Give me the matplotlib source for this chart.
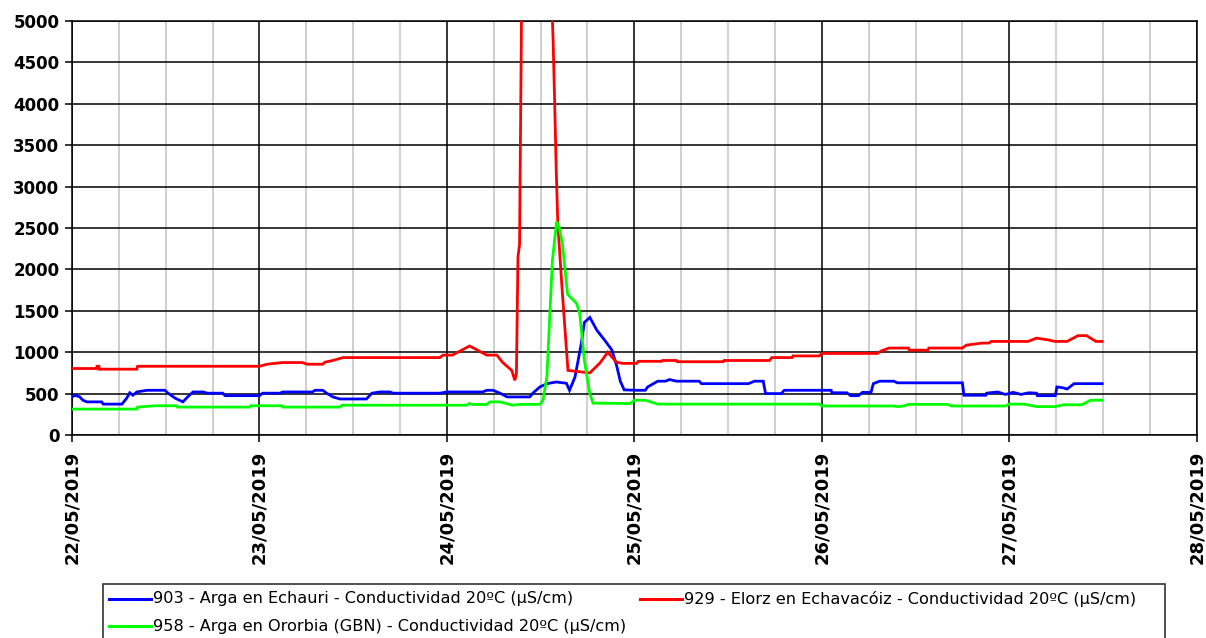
import matplotlib
matplotlib.use("Agg")
import matplotlib.pyplot as plt
import matplotlib.dates as mdates
import pandas as pd
from matplotlib.lines import Line2D
from matplotlib.patches import Rectangle

# ---------------- data (hours since 22/05/2019 00:00, µS/cm) ----------------
start = pd.Timestamp("2019-05-22 00:00")

labels = [
    "903 - Arga en Echauri - Conductividad 20ºC (µS/cm)",
    "929 - Elorz en Echavacóiz - Conductividad 20ºC (µS/cm)",
    "958 - Arga en Ororbia (GBN) - Conductividad 20ºC (µS/cm)",
]
colors = ["#0000ff", "#ff0000", "#00ff00"]

blue_h = [0, 0.4, 1.0, 1.4, 1.9, 3.8, 4.0, 6.4, 7.0, 7.4, 7.8, 8.3, 9.6, 11.9,
          12.3, 13.2, 14.2, 14.8, 15.5, 16.8, 17.3, 19.3, 19.6, 24.0, 24.4, 26.6,
          27.0, 30.8, 31.1, 32.1, 32.6, 33.4, 34.3, 37.7, 38.4, 39.4, 40.7, 41.1,
          47.1, 48.0, 52.6, 53.1, 53.9, 54.8, 55.7, 58.6, 59.0, 59.9, 60.8, 62.0,
          63.3, 63.7, 64.4, 65.2, 65.6, 66.3, 67.2, 68.2, 69.1, 69.7, 70.2, 70.7,
          72.3, 73.4, 73.7, 75.0, 76.0, 76.5, 77.4, 80.3, 80.6, 86.6, 87.4, 88.5,
          88.8, 90.8, 91.2, 97.2, 97.3, 99.2, 99.7, 100.7, 101.2, 102.3, 102.6,
          103.4, 105.2, 105.7, 114.0, 114.2, 117.0, 117.1, 118.5, 119.5, 120.5,
          121.5, 122.5, 123.5, 123.6, 125.9, 126.1, 126.9, 127.4, 128.3, 131.9]
blue_v = [460, 480, 460, 420, 400, 400, 373, 373, 445, 510, 480, 520, 540, 540,
          505, 445, 400, 460, 520, 520, 505, 505, 475, 475, 505, 505,
          520, 520, 540, 540, 505, 460, 435, 435, 505, 520, 520, 505,
          505, 520, 520, 540, 540, 505, 460, 460, 505, 580, 620, 640,
          625, 540, 700, 1100, 1360, 1420, 1265, 1145, 1030, 850, 650, 545,
          540, 540, 580, 650, 650, 670, 650, 650, 620, 620, 650, 650,
          500, 500, 540, 540, 510, 510, 475, 475, 515, 515, 620,
          650, 650, 630, 630, 480, 480, 505, 520, 490, 515,
          490, 510, 505, 475, 475, 580, 570, 555, 620, 620]

red_h = [0, 3.15, 3.2, 3.45, 3.5, 8.3, 8.4, 24.0, 25.0, 26.9, 29.5, 30.1, 32.1,
         32.4, 33.4, 34.7, 47.1, 47.5, 48.7, 50.9, 52.4, 53.1, 54.4, 55.1, 56.3,
         56.7, 56.9, 57.1, 57.3, 57.6, 61.3, 61.6, 61.8, 62.0, 62.2, 62.7, 63.1,
         63.5, 66.3, 67.6, 68.6, 69.7, 70.5, 72.3, 72.5, 75.5, 75.6, 77.4, 77.5,
         83.4, 83.5, 89.3, 89.6, 92.2, 92.3, 95.7, 96.0, 103.1, 103.6, 104.6,
         107.1, 107.2, 109.6, 109.7, 114.0, 114.5, 116.5, 117.4, 117.7, 122.4,
         123.5, 124.9, 125.9, 127.4, 128.8, 129.9, 131.1, 131.9]
red_v = [803, 803, 830, 830, 795, 795, 830, 830, 855, 875, 875, 855, 855,
         880, 900, 935, 935, 965, 965, 1075, 1000, 965, 965, 880, 780,
         660, 745, 2150, 2300, 5600, 5600, 4760, 4000, 3190, 2555, 1830, 1300,
         780, 750, 870, 1000, 880, 865, 865, 890, 890, 900, 900, 885,
         885, 900, 900, 935, 935, 955, 955, 985, 985, 1015, 1050,
         1050, 1025, 1025, 1050, 1050, 1085, 1110, 1110, 1130, 1130,
         1170, 1150, 1130, 1130, 1200, 1200, 1130, 1130]

green_h = [0, 8.3, 8.4, 10.6, 13.4, 13.5, 22.8, 22.9, 26.9, 27.0, 34.3, 34.6,
           50.5, 50.9, 51.3, 53.1, 53.5, 54.8, 55.4, 56.4, 57.3, 59.9, 60.3,
           60.8, 61.2, 61.5, 62.05, 62.4, 62.8, 63.45, 64.6, 65.0, 65.6, 66.3,
           66.7, 71.5, 72.0, 73.4, 75.0, 95.7, 96.0, 105.2, 105.7, 106.5, 107.1,
           112.1, 112.6, 119.5, 120.0, 121.9, 123.5, 125.9, 126.9, 129.3, 130.4,
           131.9]
green_v = [313, 313, 337, 353, 353, 337, 337, 353, 353, 337, 337, 360,
           360, 380, 368, 368, 400, 400, 385, 360, 370, 370, 420,
           700, 1500, 2100, 2580, 2500, 2300, 1700, 1590, 1470, 900, 500,
           385, 380, 420, 420, 373, 373, 350, 350, 343, 350, 370,
           370, 350, 350, 373, 373, 343, 343, 365, 365, 420,
           420]

hours = [blue_h, red_h, green_h]
values = [blue_v, red_v, green_v]

y_ticks = list(range(0, 5001, 500))
x_start = pd.Timestamp("2019-05-22")
x_end = pd.Timestamp("2019-05-28")

# ---------------- figure ----------------
W, H = 1206, 638
fig = plt.figure(figsize=(W / 100, H / 100), dpi=100)
fig.patch.set_facecolor("white")

ax_l, ax_r, ax_t, ax_b = 72, 1196.7, 21, 435
ax = fig.add_axes([ax_l / W, 1 - ax_b / H, (ax_r - ax_l) / W, (ax_b - ax_t) / H])

for h, v, c, lab in zip(hours, values, colors, labels):
    t = start + pd.to_timedelta(h, unit="h")
    ax.plot(t, v, color=c, lw=2.0, label=lab, zorder=3, solid_joinstyle="miter")

ax.set_xlim(x_start, x_end)
ax.set_ylim(0, 5000)
ax.set_yticks(y_ticks)
ax.xaxis.set_major_locator(mdates.DayLocator())
ax.xaxis.set_major_formatter(mdates.DateFormatter("%d/%m/%Y"))
ax.xaxis.set_minor_locator(mdates.HourLocator(byhour=[6, 12, 18]))

ax.grid(which="major", axis="both", color="black", lw=1.1, zorder=1)
ax.grid(which="minor", axis="x", color="#cccccc", lw=1.3, zorder=0)
ax.set_axisbelow(True)

ax.tick_params(axis="y", which="major", length=5, width=1.1, pad=4,
               labelsize=12, color="black")
ax.tick_params(axis="x", which="major", length=5, width=1.1, pad=6,
               labelsize=13, rotation=90, color="black")
ax.tick_params(axis="x", which="minor", length=0)
for lbl in ax.get_yticklabels() + ax.get_xticklabels():
    lbl.set_fontweight("bold")
    lbl.set_color("black")
for sp in ax.spines.values():
    sp.set_color("black")
    sp.set_linewidth(1.1)

# ---------------- legend (framed key below the plot) ----------------
def fx(px):
    return px / W

def fy(py):
    return 1 - py / H

frame = Rectangle((fx(102.5), fy(660)), fx(1165) - fx(102.5), fy(584) - fy(660),
                  transform=fig.transFigure, facecolor="white", edgecolor="#333333",
                  lw=1.2, zorder=5)
fig.add_artist(frame)

entries = [
    (0, 109, 151, 153, 599),
    (1, 640, 682, 684, 599),
    (2, 109, 151, 153, 626),
]
for idx, x0, x1, xt, yrow in entries:
    fig.add_artist(Line2D([fx(x0), fx(x1)], [fy(yrow), fy(yrow)],
                          transform=fig.transFigure, color=colors[idx], lw=2.2,
                          zorder=6))
    fig.text(fx(xt), fy(yrow), labels[idx], fontsize=11.6, color="black",
             ha="left", va="center", zorder=6)

fig.savefig("out.png", dpi=100, facecolor="white")
